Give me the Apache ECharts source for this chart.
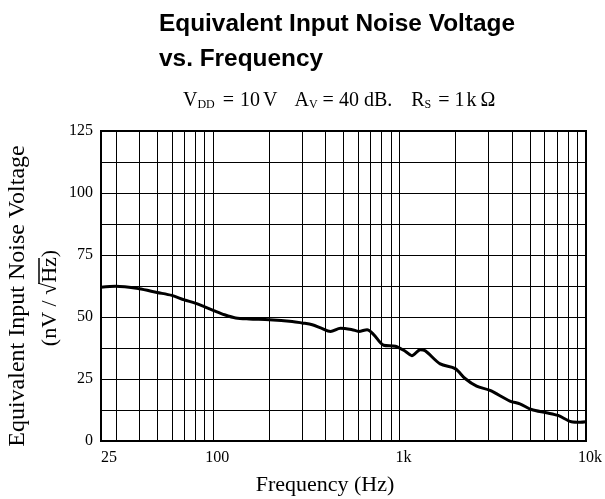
<!DOCTYPE html>
<html>
<head>
<meta charset="utf-8">
<script src="https://cdn.jsdelivr.net/npm/echarts@6/dist/echarts.min.js"></script>
<style>
  html, body { margin: 0; padding: 0; background: #fff; }
  #myChart { width: 605px; height: 499px; }
</style>
</head>
<body>
<div id="myChart"></div>
<script>
// curve (Hz, nV/rtHz)
var freq = [25, 30, 40, 50, 60, 70, 80, 90, 100, 115, 132, 156, 200, 265, 300, 340, 380, 426, 482, 556, 604, 669, 726, 821, 949, 1072, 1164, 1291, 1372, 1651, 1986, 2245, 2590, 3055, 3908, 4418, 5097, 6131, 7083, 8345, 9300, 10000];
var noise = [62, 62.4, 61.4, 59.9, 58.7, 56.9, 55.6, 54.1, 52.7, 50.9, 49.6, 49.2, 48.9, 48.2, 47.6, 46.9, 45.5, 44.2, 45.5, 44.9, 44.2, 44.9, 42.9, 38.6, 38.2, 36.2, 34.4, 36.8, 36.4, 31.1, 29.2, 25.2, 22.1, 20.4, 16.1, 15.0, 12.7, 11.4, 10.3, 7.8, 7.6, 7.8];

var xTicks = [25, 100, 1000, 10000];
var xTickText = ['25', '100', '1k', '10k'];
// vertical log grid lines
var xGrid = [30, 40, 50, 60, 70, 80, 90, 100, 200, 300, 400, 500, 600, 700, 800, 900, 1000,
  2000, 3000, 4000, 5000, 6000, 7000, 8000, 9000];
var yTicks = [0, 25, 50, 75, 100, 125];

var serif = '"Liberation Serif", "DejaVu Serif", serif';

var mycharts = echarts.init(document.getElementById('myChart'));

var pts = freq.map(function (f, i) { return [f, noise[i]]; });

// subtitle pieces, spaced out with padding [top, right, bottom, left]
function sub(l, r) {
  return { fontFamily: serif, fontSize: 12, fill: '#000', verticalAlign: 'bottom', lineHeight: 22, padding: [0, r, 0, l] };
}
function norm(l, r) {
  return { fontFamily: serif, fontSize: 20, fill: '#000', verticalAlign: 'bottom', lineHeight: 22, padding: [0, r, 0, l] };
}

var option = {
  animation: false,
  backgroundColor: '#fff',
  title: {
    text: 'Equivalent Input Noise Voltage\nvs. Frequency',
    left: 154,
    top: 2,
    textStyle: {
      fontFamily: '"Liberation Sans", Arial, sans-serif',
      fontWeight: 'bold',
      fontSize: 24.4,
      lineHeight: 35,
      color: '#000'
    }
  },
  grid: {
    left: 101,
    right: 17,
    top: 131,
    bottom: 58,
    show: true,
    borderColor: '#000',
    borderWidth: 2
  },
  xAxis: {
    type: 'log',
    logBase: 10,
    min: 25,
    max: 10000,
    axisLine: { show: true, lineStyle: { color: '#000', width: 2 } },
    axisTick: { show: false },
    splitLine: { show: false },
    axisLabel: {
      customValues: xTicks,
      margin: 9,
      color: '#000',
      fontFamily: serif,
      fontSize: 16,
      formatter: function (v) {
        var i = xTicks.indexOf(v);
        if (i < 0) return '';
        return (i === 0 ? '{a|' : '{b|') + xTickText[i] + '}';
      },
      rich: {
        a: { fontFamily: serif, fontSize: 16, color: '#000', padding: [0, 0, 0, 16] },
        b: { fontFamily: serif, fontSize: 16, color: '#000', padding: [0, 0, 0, 8] }
      }
    }
  },
  yAxis: {
    type: 'value',
    min: 0,
    max: 125,
    interval: 12.5,
    axisLine: { show: true, lineStyle: { color: '#000', width: 2 } },
    axisTick: { show: false },
    splitLine: { show: true, lineStyle: { color: '#000', width: 1 } },
    axisLabel: {
      margin: 8,
      color: '#000',
      fontFamily: serif,
      fontSize: 16,
      formatter: function (v) {
        return yTicks.indexOf(v) >= 0 ? String(v) : '';
      }
    }
  },
  graphic: [
    {
      type: 'text',
      x: 183,
      y: 89,
      style: {
        text: '{v|V}{dd|DD}{eq1|=}{n10|10}{v2|V}{a|A}{av|V}{eq2|=}{n40|40}{db|dB.}{r|R}{rs|S}{eq3|=}{one|1}{k|k}{om|Ω}',
        rich: {
          v: norm(0, 0), dd: sub(0, 3), eq1: norm(5, 5), n10: norm(1, 3), v2: norm(0, 17),
          a: norm(0, 0), av: sub(0, 1), eq2: norm(4, 5), n40: norm(0, 5), db: norm(0, 19),
          r: norm(0, 0), rs: sub(0, 3), eq3: norm(4, 5), one: norm(0, 2), k: norm(0, 4), om: norm(0, 0)
        }
      }
    },
    {
      type: 'text',
      x: 18,
      y: 296,
      rotation: Math.PI / 2,
      style: {
        text: 'Equivalent Input Noise Voltage',
        font: '24px ' + serif,
        fill: '#000',
        align: 'center',
        verticalAlign: 'middle'
      }
    },
    {
      type: 'group',
      x: 50,
      y: 298,
      rotation: Math.PI / 2,
      children: [
        {
          type: 'text',
          style: {
            text: '(nV / √Hz)',
            font: '22px ' + serif,
            fill: '#000',
            align: 'center',
            verticalAlign: 'middle'
          }
        },
        {
          type: 'line',
          shape: { x1: 14, y1: -11, x2: 40, y2: -11 },
          style: { stroke: '#000', lineWidth: 1.5 }
        }
      ]
    },
    {
      type: 'text',
      x: 325,
      y: 485,
      style: {
        text: 'Frequency (Hz)',
        font: '22px ' + serif,
        fill: '#000',
        align: 'center',
        verticalAlign: 'middle'
      }
    }
  ],
  series: [
    {
      type: 'line',
      data: pts,
      showSymbol: false,
      smooth: 0.3,
      lineStyle: { color: '#000', width: 3 },
      markLine: {
        silent: true,
        symbol: 'none',
        label: { show: false },
        lineStyle: { color: '#000', width: 1, type: 'solid' },
        data: xGrid.map(function (v) { return { xAxis: v }; })
      }
    }
  ]
};

mycharts.setOption(option);
</script>
</body>
</html>
